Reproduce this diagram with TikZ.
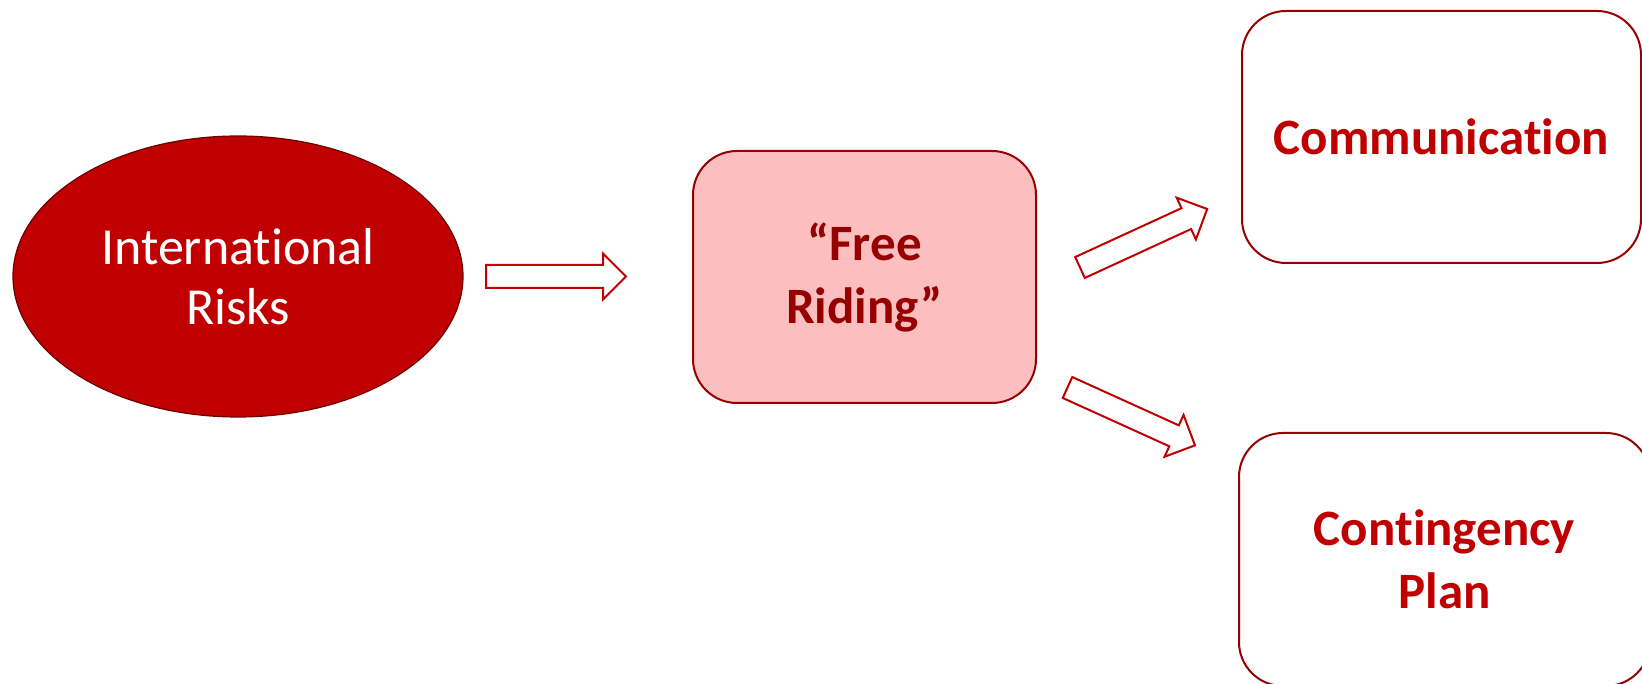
\documentclass[tikz,border=0pt]{standalone}
\usepackage{fontspec}
\setmainfont{Carlito}[Ligatures=NoCommon]
\usetikzlibrary{shapes.geometric}
\definecolor{darkred}{RGB}{192,0,0}
\definecolor{deepred}{RGB}{150,0,0}
\definecolor{pinkfill}{RGB}{252,190,190}
\definecolor{ellborder}{RGB}{110,0,0}
\begin{document}
\begin{tikzpicture}[x=1pt,y=1pt,
  ovalnode/.style={ellipse, fill=darkred, draw=ellborder, line width=1.2pt,
    minimum width=450pt, minimum height=281pt, inner sep=0pt, text=white,
    align=center, font=\fontsize{52}{60}\selectfont},
  boxnode/.style={rectangle, rounded corners=44pt, draw=deepred, line width=2pt,
    inner sep=0pt, align=center, font=\fontsize{51}{63}\selectfont\bfseries},
  pics/blockarrow/.style={code={
    \draw[draw=darkred, line width=2pt, fill=white, line join=miter]
      (0,-11.5) -- (117,-11.5) -- (117,-23) -- (140,0) -- (117,23) -- (117,11.5) -- (0,11.5) -- cycle;}}
]
\useasboundingbox (0,0) rectangle (1642,-684);
\node[ovalnode] (ir) at (238,-276.5) {International\\Risks};
\node[boxnode, fill=pinkfill, text=deepred, minimum width=343pt, minimum height=252pt] (fr) at (864.5,-277) {“Free\\Riding”};
\node[boxnode, fill=white, text=darkred, minimum width=399pt, minimum height=252pt] (com) at (1441.5,-137) {Communication};
\node[boxnode, fill=white, text=darkred, minimum width=411pt, minimum height=253pt] (cp) at (1444.5,-559.5) {Contingency\\Plan};
\pic at (486,-276.5) {blockarrow};
\pic[rotate=24.7] at (1080,-267.5) {blockarrow};
\pic[rotate=-24.4] at (1067.5,-387.5) {blockarrow};
\end{tikzpicture}
\end{document}
